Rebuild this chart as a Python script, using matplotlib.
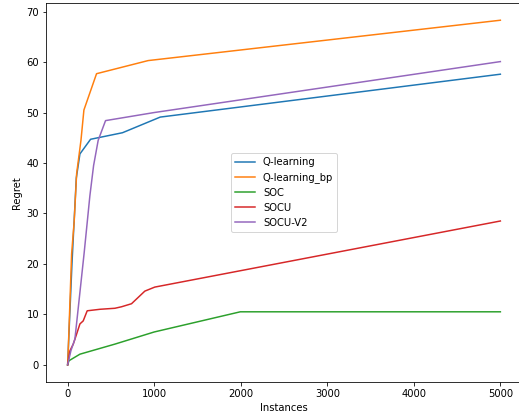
import matplotlib
matplotlib.use('Agg')
import matplotlib.pyplot as plt

q_x = [0, 50, 100, 142, 265, 634, 1070, 5000]
q_y = [0, 20, 37, 41.8, 44.7, 46.0, 49.1, 57.6]

qbp_x = [0, 7, 46, 76, 104, 154, 188, 334, 930, 5000]
qbp_y = [0, 2.8, 22.0, 28.5, 37.9, 44.5, 50.5, 57.7, 60.3, 68.3]

soc_x = [0, 15, 142, 547, 1000, 1995, 5000]
soc_y = [0, 0.8, 2.1, 4.1, 6.5, 10.5, 10.5]

socu_x = [0, 27, 65, 104, 142, 180, 226, 374, 546, 623, 738, 892, 1007, 5000]
socu_y = [0, 2.8, 4.1, 6.1, 8.1, 8.7, 10.7, 11.0, 11.2, 11.5, 12.1, 14.6, 15.4, 28.5]

socu2_x = [0, 38, 84, 191, 257, 300, 353, 438, 1000, 5000]
socu2_y = [0, 2.8, 5.1, 22.2, 33.5, 39.5, 44.5, 48.4, 50.0, 60.1]

fig = plt.figure(figsize=(519 / 72, 415 / 72), dpi=72)
ax = fig.add_axes([46 / 519, 33 / 415, 476 / 519, 379 / 415])

ax.plot(q_x, q_y, label='Q-learning')
ax.plot(qbp_x, qbp_y, label='Q-learning_bp')
ax.plot(soc_x, soc_y, label='SOC')
ax.plot(socu_x, socu_y, label='SOCU')
ax.plot(socu2_x, socu2_y, label='SOCU-V2')

ax.set_xlabel('Instances')
ax.set_ylabel('Regret')
ax.legend(loc='center')

fig.savefig('out.png', dpi=72)
